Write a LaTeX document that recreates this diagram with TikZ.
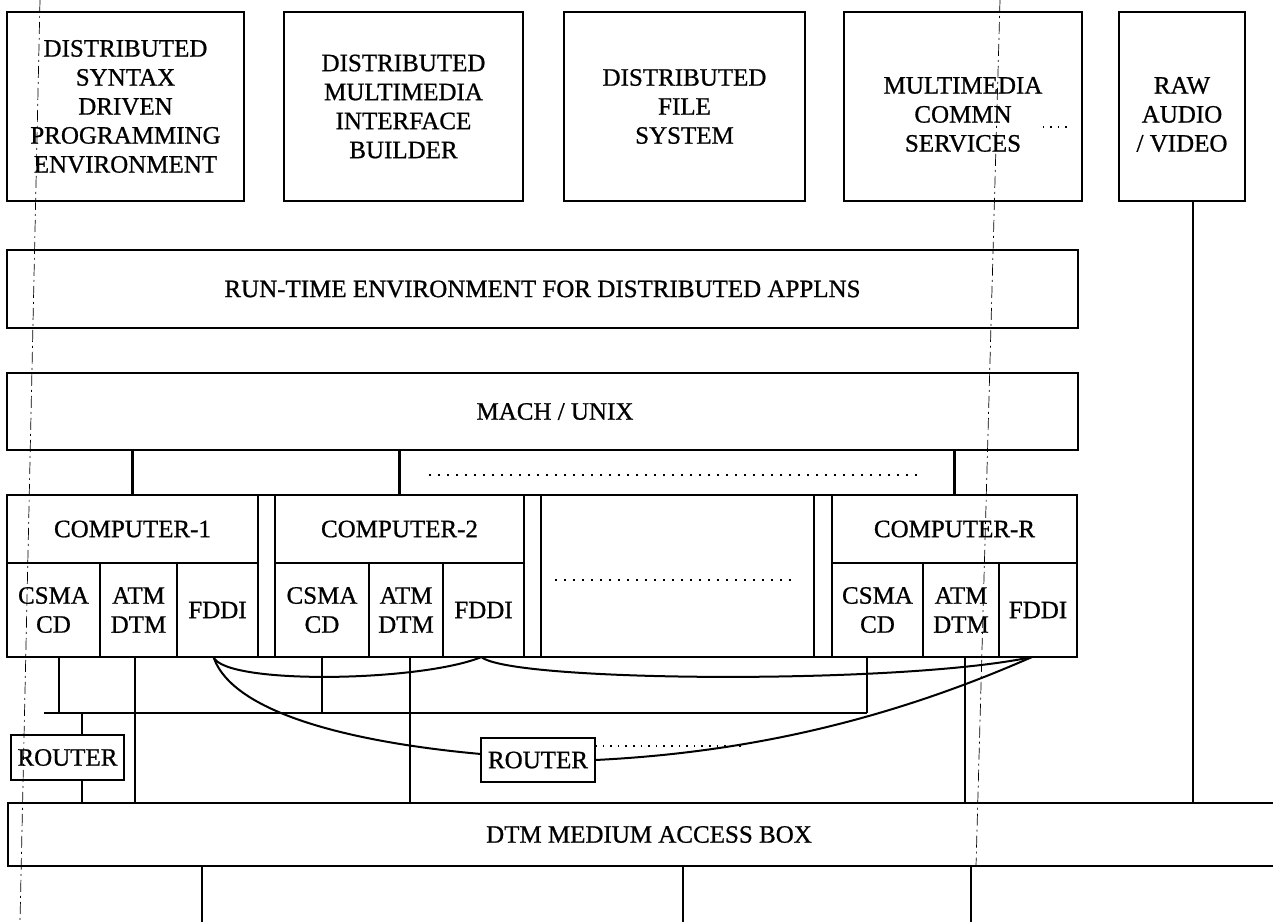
\documentclass[tikz,border=0pt]{standalone}
\usepackage{fontspec}
\setmainfont{Liberation Serif}[UprightFeatures={FakeBold=0.8}]
\tikzset{
  box/.style={draw, line width=2.2pt, inner sep=0pt, outer sep=0pt, align=center,
              font=\fontsize{25}{29}\selectfont},
  txt/.style={inner sep=0pt, align=center, font=\fontsize{25}{29}\selectfont},
  wire/.style={line width=2.2pt},
  curve/.style={line width=2pt},
  dots/.style={line width=2pt, dash pattern=on 2pt off 7pt},
  fold/.style={line width=0.7pt, dash pattern=on 12pt off 4pt on 2pt off 4pt},
}
\newcommand\mkbox[7]{\node[box,minimum width={#4-#2},minimum height={#5-#3},#6] (#1) at ({(#2+#4)/2},{(#3+#5)/2}) {#7};}
\begin{document}
\begin{tikzpicture}[x=1pt,y=-1pt]
\useasboundingbox (0,0) rectangle (1273,922);
% top row
\mkbox{b1}{7}{12}{244}{201}{}{DISTRIBUTED\\SYNTAX\\DRIVEN\\PROGRAMMING\\ENVIRONMENT}
\mkbox{b2}{284}{12}{523}{201}{}{DISTRIBUTED\\MULTIMEDIA\\INTERFACE\\BUILDER}
\mkbox{b3}{564}{12}{805}{201}{}{DISTRIBUTED\\FILE\\SYSTEM}
\mkbox{b4}{844}{12}{1082}{201}{}{}
\mkbox{b5}{1119}{12}{1245}{201}{}{}
\node[txt] (b4t) at ([yshift=-8]b4.center) {MULTIMEDIA\\COMMN\\SERVICES};
\node[txt] (b5t) at ([yshift=-8]b5.center) {RAW\\AUDIO\\/ VIDEO};
\coordinate (e1) at (1043,127); \coordinate (e2) at (1070,127);
\draw[dots, line width=1.4pt, dash pattern=on 1.4pt off 6pt] (e1) -- (e2);
% layers
\mkbox{run}{7}{250}{1078}{328}{}{RUN-TIME ENVIRONMENT FOR DISTRIBUTED APPLNS}
\mkbox{mach}{7}{373}{1078}{450}{}{\hspace*{25pt}MACH / UNIX}
% computer row
\mkbox{row}{7}{495}{1077}{657}{}{}
\mkbox{c1}{7}{495}{258}{563}{}{COMPUTER-1}
\mkbox{c1a}{7}{563}{100}{657}{}{CSMA\\CD}
\mkbox{c1b}{100}{563}{177}{657}{}{ATM\\DTM}
\mkbox{c1c}{177}{563}{258}{657}{}{FDDI}
\mkbox{c2}{275}{495}{524}{563}{}{COMPUTER-2}
\mkbox{c2a}{275}{563}{369}{657}{}{CSMA\\CD}
\mkbox{c2b}{369}{563}{443}{657}{}{ATM\\DTM}
\mkbox{c2c}{443}{563}{524}{657}{}{FDDI}
\mkbox{mid}{541}{495}{814}{657}{}{}
\mkbox{cR}{832}{495}{1077}{563}{}{COMPUTER-R}
\mkbox{cRa}{832}{563}{923}{657}{}{CSMA\\CD}
\mkbox{cRb}{923}{563}{999}{657}{}{ATM\\DTM}
\mkbox{cRc}{999}{563}{1077}{657}{}{FDDI}
% routers and access box
\mkbox{rtL}{11}{735}{124}{780}{}{ROUTER}
\mkbox{rtM}{481}{738}{595}{782}{}{ROUTER}
\mkbox{dtm}{8}{803}{1290}{866}{}{DTM MEDIUM ACCESS BOX}
% mach to computers
\draw[wire] (c1.north) -- (c1.north |- mach.south);
\draw[wire] (c2.north) -- (c2.north |- mach.south);
\draw[wire] (cR.north) -- (cR.north |- mach.south);
\coordinate (d1) at (429,475); \coordinate (d2) at (920,475);
\draw[dots] (d1) -- (d2);
\coordinate (m1) at (555,580); \coordinate (m2) at (797,580);
\draw[dots] (m1) -- (m2);
% CSMA bus
\coordinate (busL) at (44,713); \coordinate (busR) at (867,713);
\draw[wire] (busL) -- (busR);
\draw[wire] ([xshift=5.5]c1a.south) -- ([xshift=5.5]c1a.south |- busL);
\draw[wire] (c2a.south) -- (c2a.south |- busL);
\draw[wire] (cRa.south -| busR) -- (busR);
\draw[wire] ([xshift=14.5]rtL.north) -- ([xshift=14.5]rtL.north |- busL);
\draw[wire] ([xshift=14.5]rtL.south) -- ([xshift=14.5]rtL.south |- dtm.north);
% ATM/DTM to access box
\draw[wire] ([xshift=-3.5]c1b.south) -- ([xshift=-3.5]c1b.south |- dtm.north);
\draw[wire] ([xshift=4]c2b.south) -- ([xshift=4]c2b.south |- dtm.north);
\draw[wire] ([xshift=4]cRb.south) -- ([xshift=4]cRb.south |- dtm.north);
\draw[wire] ([xshift=11]b5.south) -- ([xshift=11]b5.south |- dtm.north);
% FDDI ring
\draw[curve] ([xshift=-4]c1c.south) .. controls (225,685) and (420,682) .. ([xshift=-2]c2c.south);
\draw[curve] ([xshift=-2]c2c.south) .. controls (510,682) and (900,685) .. ([xshift=-6]cRc.south);
\draw[curve] ([xshift=-4]c1c.south) .. controls (235,720) and (380,745) .. ([yshift=6]rtM.west);
\draw[curve] (rtM.east) .. controls (760,752) and (900,715) .. ([xshift=-6]cRc.south);
\coordinate (dE) at (744,746);
\draw[dots, line width=1.6pt, dash pattern=on 1.6pt off 6pt] ([yshift=-8]rtM.north east) -- (dE);
% below access box
\coordinate (z1) at (202,922); \coordinate (z2) at (683,922); \coordinate (z3) at (971,922);
\draw[wire] (dtm.south -| z1) -- (z1);
\draw[wire] (dtm.south -| z2) -- (z2);
\draw[wire] (dtm.south -| z3) -- (z3);
% fold marks of the scanned page
\coordinate (f1) at (40,0); \coordinate (f2) at (20,922);
\coordinate (f3) at (1000,0); \coordinate (f4) at (976,866);
\draw[fold] (f1) -- (f2);
\draw[fold] (f3) -- (f4);
\end{tikzpicture}
\end{document}
